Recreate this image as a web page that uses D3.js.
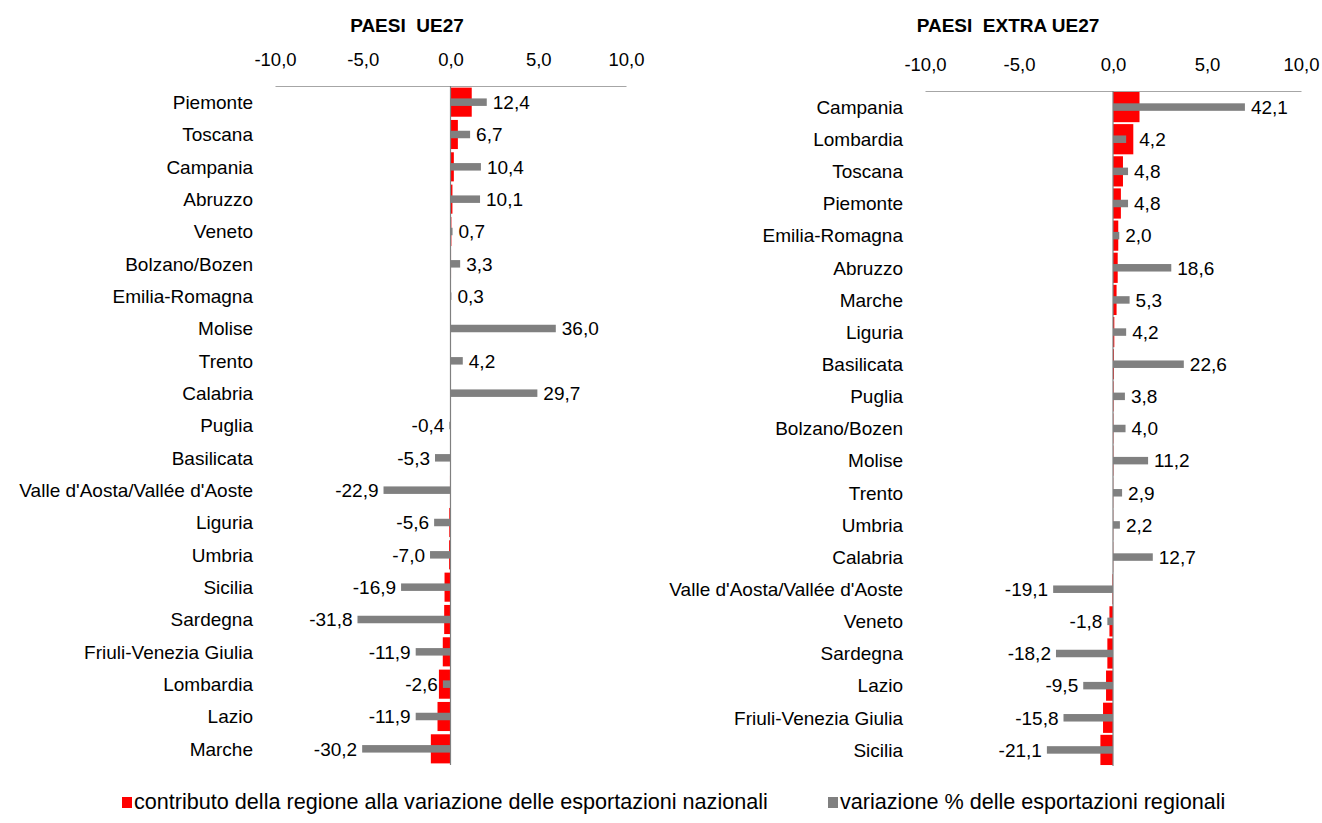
<!DOCTYPE html>
<html>
<head>
<meta charset="utf-8">
<script src="https://cdn.jsdelivr.net/npm/d3@7"></script>
<style>
  html, body { margin: 0; padding: 0; background: #fff; }
  svg { display: block; font-family: "Liberation Sans", Arial, sans-serif; }
</style>
</head>
<body>
<svg id="chart" width="1322" height="823"></svg>
<script>
// --- Paesi UE27 ---
const ueRegions = ["Piemonte", "Toscana", "Campania", "Abruzzo", "Veneto", "Bolzano/Bozen",
  "Emilia-Romagna", "Molise", "Trento", "Calabria", "Puglia", "Basilicata",
  "Valle d'Aosta/Vallée d'Aoste", "Liguria", "Umbria", "Sicilia", "Sardegna",
  "Friuli-Venezia Giulia", "Lombardia", "Lazio", "Marche"];
const ueContributo = [1.21, 0.42, 0.19, 0.11, 0.05, 0.03, 0.02, 0.02, 0.01, 0.01, -0.01, -0.02,
  -0.03, -0.07, -0.08, -0.34, -0.36, -0.44, -0.66, -0.74, -1.12];
const ueVariazione = [12.4, 6.7, 10.4, 10.1, 0.7, 3.3, 0.3, 36.0, 4.2, 29.7, -0.4, -5.3,
  -22.9, -5.6, -7.0, -16.9, -31.8, -11.9, -2.6, -11.9, -30.2];

// --- Paesi extra UE27 ---
const extraRegions = ["Campania", "Lombardia", "Toscana", "Piemonte", "Emilia-Romagna", "Abruzzo",
  "Marche", "Liguria", "Basilicata", "Puglia", "Bolzano/Bozen", "Molise", "Trento", "Umbria",
  "Calabria", "Valle d'Aosta/Vallée d'Aoste", "Veneto", "Sardegna", "Lazio",
  "Friuli-Venezia Giulia", "Sicilia"];
const extraContributo = [1.41, 1.08, 0.53, 0.42, 0.28, 0.25, 0.19, 0.07, 0.05, 0.03, 0.02, 0.02,
  0.01, 0.01, 0.01, -0.03, -0.19, -0.30, -0.37, -0.53, -0.67];
const extraVariazione = [42.1, 4.2, 4.8, 4.8, 2.0, 18.6, 5.3, 4.2, 22.6, 3.8, 4.0, 11.2,
  2.9, 2.2, 12.7, -19.1, -1.8, -18.2, -9.5, -15.8, -21.1];

const axisTicks = [-10, -5, 0, 5, 10];
const legendLabels = ["contributo della regione alla variazione delle esportazioni nazionali",
  "variazione % delle esportazioni regionali"];

const RED = "#ff0000", GREY = "#808080";
const it = d3.formatLocale({decimal: ",", thousands: ".", grouping: [3], currency: ["", " €"], minus: "-"});
const fmt = it.format(".1f");

const svg = d3.select("#chart");

function panel(cfg) {
  const data = cfg.regions.map((r, i) => ({region: r, c: cfg.contributo[i], v: cfg.variazione[i]}));
  const x = d3.scaleLinear().domain([-10, 10]).range(cfg.xRange);
  const x2 = d3.scaleLinear().domain([-60, 60]).range(cfg.xRange);
  const y = d3.scaleBand().domain(cfg.regions).range(cfg.yRange).paddingInner(cfg.pad).paddingOuter(cfg.pad / 2);
  const g = svg.append("g");

  // title
  g.append("text")
    .attr("x", cfg.titleX).attr("y", 32)
    .attr("text-anchor", "middle")
    .style("font-weight", "bold").style("font-size", "19px")
    .style("white-space", "pre").attr("xml:space", "preserve")
    .attr("fill", "#000")
    .text(cfg.title);

  // top value axis
  const ax = g.append("g")
    .attr("transform", `translate(0,${cfg.yRange[0]})`)
    .call(d3.axisTop(x).tickValues(axisTicks).tickSize(0).tickPadding(20).tickFormat(fmt));
  ax.select(".domain").attr("stroke", "#a6a6a6").attr("stroke-width", 1.2);
  ax.selectAll("text").style("font-size", "18.5px").attr("fill", "#000")
    .style("font-family", "Liberation Sans, Arial, sans-serif");

  // contribution bars
  g.selectAll("rect.contr").data(data).enter().append("rect")
    .attr("class", "contr")
    .attr("x", d => Math.min(x(0), x(d.c)))
    .attr("width", d => Math.abs(x(d.c) - x(0)))
    .attr("y", d => y(d.region))
    .attr("height", y.bandwidth())
    .attr("fill", RED);

  // zero line
  g.append("line")
    .attr("x1", x(0)).attr("x2", x(0))
    .attr("y1", cfg.yRange[0]).attr("y2", cfg.yRange[1])
    .attr("stroke", GREY).attr("stroke-width", 1.2);

  // regional variation bars (secondary scale)
  const gh = 7.5;
  g.selectAll("rect.var").data(data).enter().append("rect")
    .attr("class", "var")
    .attr("x", d => Math.min(x2(0), x2(d.v)))
    .attr("width", d => Math.abs(x2(d.v) - x2(0)))
    .attr("y", d => y(d.region) + y.bandwidth() / 2 - gh / 2)
    .attr("height", gh)
    .attr("fill", GREY);

  // value labels, placed beyond the outer end of the bars
  g.selectAll("text.val").data(data).enter().append("text")
    .attr("class", "val")
    .attr("x", d => d.v >= 0 ? Math.max(x2(d.v), x(d.c)) + 6 : x2(d.v) - 5)
    .attr("y", d => y(d.region) + y.bandwidth() / 2)
    .attr("dy", "0.36em")
    .attr("text-anchor", d => d.v >= 0 ? "start" : "end")
    .style("font-size", "19px").attr("fill", "#000")
    .text(d => fmt(d.v));

  // category labels
  g.selectAll("text.cat").data(data).enter().append("text")
    .attr("class", "cat")
    .attr("x", cfg.xRange[0] - 22)
    .attr("y", d => y(d.region) + y.bandwidth() / 2)
    .attr("dy", "0.36em")
    .attr("text-anchor", "end")
    .style("font-size", "19px").attr("fill", "#000")
    .text(d => d.region);
}

panel({title: "PAESI  UE27", titleX: 407, regions: ueRegions, contributo: ueContributo,
  variazione: ueVariazione, xRange: [275, 626], yRange: [86, 765], pad: 0.1});
panel({title: "PAESI  EXTRA UE27", titleX: 1008, regions: extraRegions, contributo: extraContributo,
  variazione: extraVariazione, xRange: [925, 1301], yRange: [91, 766], pad: 0.06});

// legend
const legend = svg.append("g").attr("transform", "translate(0,809)");
const items = [{label: legendLabels[0], color: RED, x: 122}, {label: legendLabels[1], color: GREY, x: 828}];
items.forEach(it2 => {
  legend.append("rect").attr("x", it2.x).attr("y", -12).attr("width", 10).attr("height", 11).attr("fill", it2.color);
  legend.append("text").attr("x", it2.x + 12).attr("y", 0)
    .style("font-size", "21.6px").attr("fill", "#000").text(it2.label);
});
</script>
</body>
</html>
